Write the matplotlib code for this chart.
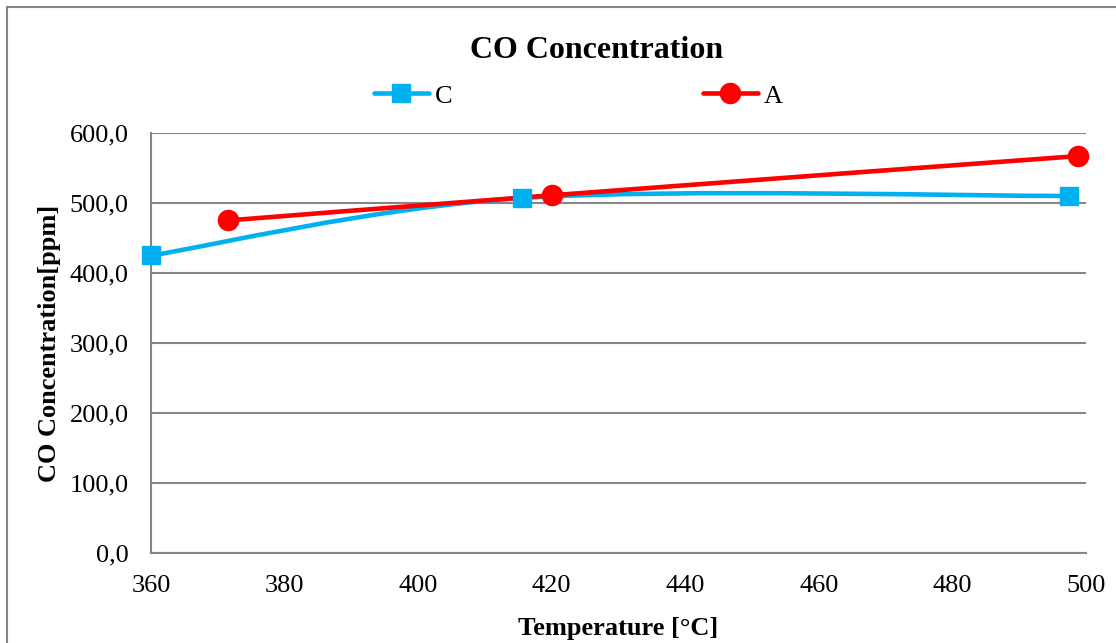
import matplotlib
matplotlib.use("Agg")
import matplotlib.pyplot as plt
from matplotlib.path import Path
from matplotlib.patches import PathPatch, Rectangle
from matplotlib.lines import Line2D
import numpy as np

# data
temp_c = [360.0, 415.5, 497.5]
co_c = [425.0, 507.0, 510.0]
temp_a = [371.5, 420.0, 498.8]
co_a = [475.0, 511.0, 567.0]

x_ticks = [360, 380, 400, 420, 440, 460, 480, 500]
y_ticks = [0, 100, 200, 300, 400, 500, 600]

plt.rcParams['font.family'] = ['Liberation Serif', 'DejaVu Serif']

# excel-like smoothed line (catmull-rom bezier)
def smooth_path(xs, ys):
    pts = np.column_stack([xs, ys])
    n = len(pts)
    verts = [pts[0]]
    codes = [Path.MOVETO]
    for i in range(n - 1):
        p0 = pts[max(i - 1, 0)]
        p1 = pts[i]
        p2 = pts[i + 1]
        p3 = pts[min(i + 2, n - 1)]
        c1 = p1 + (p2 - p0) / 6.0
        c2 = p2 - (p3 - p1) / 6.0
        verts += [c1, c2, p2]
        codes += [Path.CURVE4] * 3
    return Path(verts, codes)

fig = plt.figure(figsize=(11.16, 6.43), dpi=100)
ax = fig.add_axes([0.1353, 0.14, 0.8378, 0.6532])

# chart border
fig.patches.append(Rectangle((7 / 1116, -0.1), 1.2, (643 - 7) / 643 + 0.1,
                             transform=fig.transFigure, fill=False,
                             edgecolor='#868686', linewidth=1.5))

blue = '#00B0F0'
red = '#FF0000'

ax.add_patch(PathPatch(smooth_path(temp_c, co_c), fill=False, edgecolor=blue,
                       linewidth=3.3, capstyle='round', zorder=3, clip_on=False))
ax.add_patch(PathPatch(smooth_path(temp_a, co_a), fill=False, edgecolor=red,
                       linewidth=3.3, capstyle='round', zorder=4, clip_on=False))
ax.plot(temp_c, co_c, linestyle='none', marker='s', markersize=13.5,
        color=blue, zorder=5, clip_on=False)
ax.plot(temp_a, co_a, linestyle='none', marker='o', markersize=14.5,
        color=red, zorder=6, clip_on=False)

ax.set_xlim(360, 500)
ax.set_ylim(0, 600)
ax.set_xticks(x_ticks)
ax.set_yticks(y_ticks)
ax.set_yticklabels([f"{v:.1f}".replace('.', ',') for v in y_ticks])
ax.tick_params(axis='both', length=0, labelsize=19, colors='black')
ax.tick_params(axis='y', pad=16)
ax.tick_params(axis='x', pad=16)
ax.grid(axis='y', color='#868686', linewidth=1.5)
ax.set_axisbelow(True)
for side in ['top', 'right']:
    ax.spines[side].set_visible(False)
for side in ['left', 'bottom']:
    ax.spines[side].set_color('#868686')
    ax.spines[side].set_linewidth(1.5)

ax.set_xlabel("Temperature [°C]", fontsize=19, fontweight='bold', labelpad=14)
ax.set_ylabel("CO Concentration[ppm]", fontsize=19, fontweight='bold', labelpad=6)
fig.text(0.535, 0.922, "CO Concentration", ha='center', va='center',
         fontsize=23, fontweight='bold')

handles = [
    Line2D([], [], color=blue, linewidth=3.3, marker='s', markersize=13.5,
           solid_capstyle='round'),
    Line2D([], [], color=red, linewidth=3.3, marker='o', markersize=14.5,
           solid_capstyle='round'),
]
fig.legend(handles, ['C', 'A'], loc='center', bbox_to_anchor=(0.518, 0.851),
           ncol=2, frameon=False, fontsize=19, handlelength=2.1,
           handletextpad=0.2, columnspacing=9.5)

fig.savefig("out.png", dpi=100)
